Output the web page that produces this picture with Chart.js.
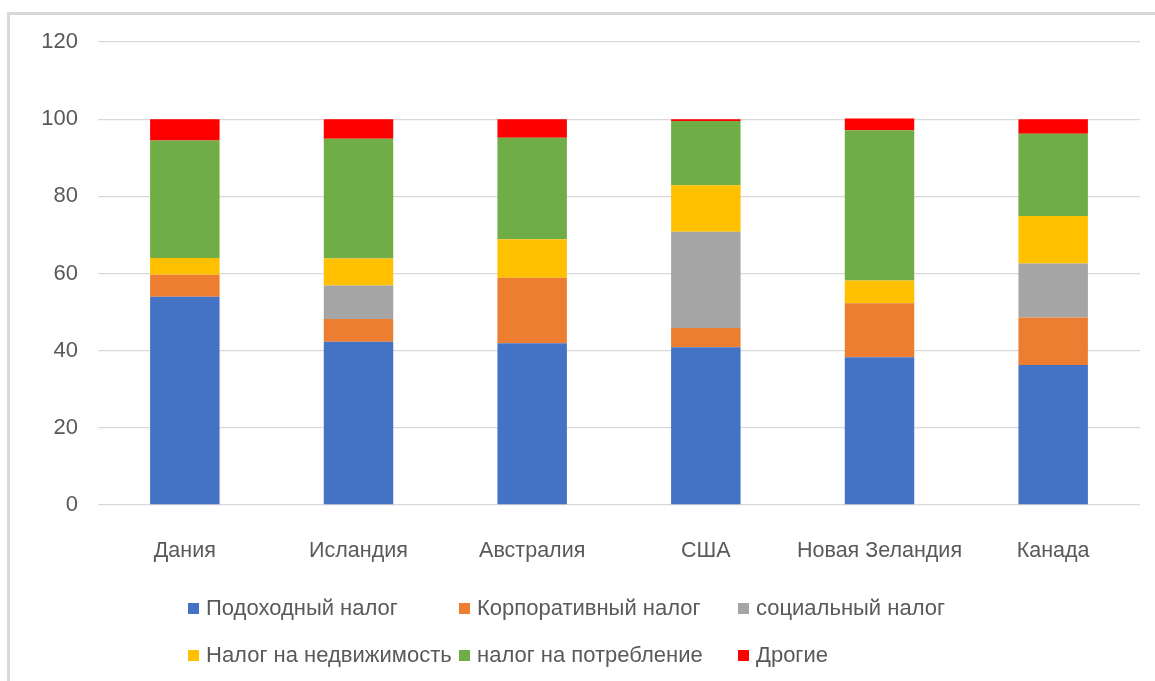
<!DOCTYPE html>
<html>
<head>
<meta charset="utf-8">
<script src="https://cdn.jsdelivr.net/npm/chart.js@4"></script>
<style>
  body { margin: 0; background: #fff; font-family: "Liberation Sans", Arial, sans-serif; }
  #wrap { position: relative; width: 1155px; height: 681px; overflow: hidden; }
  #frame { position: absolute; left: 7px; top: 12px; right: -5px; bottom: -5px;
           border-top: 3px solid #d9d9d9; border-left: 3px solid #d9d9d9; }
  #taxChart { position: absolute; left: 0; top: 0; }
  #legend { position: absolute; left: 188px; top: 596px; display: grid;
            grid-template-columns: 271px 279px auto; row-gap: 23px;
            font-size: 22px; color: #595959; }
  #legend span.item { display: flex; align-items: center; white-space: nowrap; height: 24px; }
  #legend i { display: inline-block; width: 11px; height: 11px; margin-right: 7px; }
</style>
</head>
<body>
<div id="wrap">
  <div id="frame"></div>
  <canvas id="taxChart" width="1155" height="681"></canvas>
  <div id="legend"></div>
</div>
<script>
const countries = ['Дания', 'Исландия', 'Австралия', 'США', 'Новая Зеландия', 'Канада'];

// доли налогов, %
const incomeTax    = [54.0, 42.3, 41.9, 40.9, 38.3, 36.3];
const corporateTax = [5.7, 5.9, 17.0, 5.0, 14.0, 12.3];
const socialTax    = [0, 8.7, 0, 24.9, 0, 14.0];
const propertyTax  = [4.3, 7.0, 10.0, 12.1, 5.9, 12.3];
const consumerTax  = [30.5, 31.0, 26.3, 16.6, 38.9, 21.3];
const otherTax     = [5.5, 5.1, 4.8, 0.5, 3.1, 3.8];

const yTicks = [0, 20, 40, 60, 80, 100, 120];

const series = [
  { label: 'Подоходный налог', data: incomeTax, color: '#4472c4' },
  { label: 'Корпоративный налог', data: corporateTax, color: '#ed7d31' },
  { label: 'социальный налог', data: socialTax, color: '#a5a5a5' },
  { label: 'Налог на недвижимость', data: propertyTax, color: '#ffc000' },
  { label: 'налог на потребление', data: consumerTax, color: '#70ad47' },
  { label: 'Дрогие', data: otherTax, color: '#ff0000' }
];

const ctx = document.getElementById('taxChart').getContext('2d');
const chart = new Chart(ctx, {
  type: 'bar',
  data: {
    labels: countries,
    datasets: series.map(s => ({
      label: s.label,
      data: s.data,
      backgroundColor: s.color,
      borderWidth: 0,
      categoryPercentage: 1,
      barPercentage: 0.4
    }))
  },
  options: {
    responsive: false,
    animation: false,
    layout: { padding: { left: 0, right: 15, top: 42, bottom: 0 } },
    plugins: {
      legend: { display: false },
      tooltip: { enabled: false }
    },
    scales: {
      x: {
        stacked: true,
        grid: { display: false },
        border: { display: false },
        ticks: { color: '#595959', font: { family: 'Liberation Sans', size: 21.5 }, padding: 25 },
        afterFit: scale => { scale.height = 176; }
      },
      y: {
        stacked: true,
        min: 0,
        max: 120,
        afterBuildTicks: scale => { scale.ticks = yTicks.map(v => ({ value: v })); },
        grid: { color: '#d9d9d9', lineWidth: 1.3, drawTicks: false },
        border: { display: false },
        ticks: { color: '#595959', font: { family: 'Liberation Sans', size: 22 }, padding: 20 },
        afterFit: scale => { scale.width = 98; }
      }
    }
  }
});

// легенда в две строки по три элемента
const legend = document.getElementById('legend');
series.forEach(s => {
  const item = document.createElement('span');
  item.className = 'item';
  item.innerHTML = '<i style="background:' + s.color + '"></i>' + s.label;
  legend.appendChild(item);
});
</script>
</body>
</html>
